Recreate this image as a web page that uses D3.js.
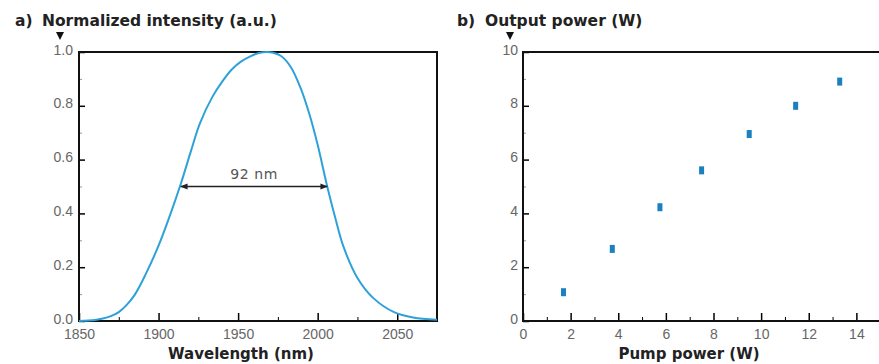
<!DOCTYPE html>
<html>
<head>
<meta charset="utf-8">
<script src="https://cdn.jsdelivr.net/npm/d3@7"></script>
<style>
  body { margin: 0; background: #fff; }
  svg { display: block; font-family: "DejaVu Sans", sans-serif; }
  .tick text { fill: #666; font-size: 14px; }
</style>
</head>
<body>
<script>
// panel a: spectrum
const wavelength = [1850, 1860, 1865, 1870, 1875, 1880, 1885, 1892, 1900, 1907, 1914, 1920, 1926, 1934, 1940, 1946, 1952, 1958, 1963, 1968, 1972, 1977, 1983, 1989, 1995, 2000, 2006, 2011, 2016, 2025, 2035, 2048, 2060, 2075];
const intensity = [0, 0.004, 0.009, 0.018, 0.033, 0.06, 0.097, 0.175, 0.28, 0.39, 0.51, 0.625, 0.735, 0.835, 0.89, 0.935, 0.965, 0.985, 0.996, 1.0, 0.997, 0.985, 0.945, 0.87, 0.765, 0.655, 0.5, 0.385, 0.28, 0.16, 0.085, 0.033, 0.013, 0.005];
const fwhm = [1914, 2006];
const fwhmLabel = "92 nm";

// panel b: output vs pump
const pumpPower = [1.7, 3.75, 5.75, 7.5, 9.5, 11.45, 13.3];
const outputPower = [1.07, 2.68, 4.23, 5.6, 6.95, 8.0, 8.9];

const width = 879, height = 364;
const plotTop = 52, plotBottom = 321;
const curveColor = "#2ea2d8";
const dotColor = "#1a80c2";

const svg = d3.select("body").append("svg")
  .attr("width", width)
  .attr("height", height);

// ---------- panel a ----------
const xA = d3.scaleLinear().domain([1850, 2075]).range([79, 437]);
const yA = d3.scaleLinear().domain([0, 1]).range([plotBottom, plotTop]);

function axesFor(x, y, xMajor, xMinor, yMajor, yMinor, yFmt, yPad) {
  const g = svg.append("g");
  g.append("g")
    .attr("transform", `translate(0,${plotBottom})`)
    .call(d3.axisBottom(x).tickValues(xMinor).tickSize(-4).tickFormat(""))
    .call(a => a.select(".domain").remove());
  g.append("g")
    .attr("transform", `translate(0,${plotBottom})`)
    .call(d3.axisBottom(x).tickValues(xMajor).tickSize(-8).tickPadding(8).tickFormat(d3.format("d")))
    .call(a => a.select(".domain").remove())
    .call(a => a.selectAll(".tick line").attr("stroke-width", 1.5));
  g.append("g")
    .attr("transform", `translate(${x.range()[0]},0)`)
    .call(d3.axisLeft(y).tickValues(yMinor).tickSize(-3).tickFormat(""))
    .call(a => a.select(".domain").remove())
    .call(a => a.selectAll(".tick line").attr("stroke", "#999"));
  g.append("g")
    .attr("transform", `translate(${x.range()[0]},0)`)
    .call(d3.axisLeft(y).tickValues(yMajor).tickSize(-6).tickPadding(yPad).tickFormat(yFmt))
    .call(a => a.select(".domain").remove())
    .call(a => a.selectAll(".tick line").attr("stroke-width", 1.5))
    .call(a => a.selectAll(".tick text").attr("dy", "0.15em"));
  // frame
  g.append("rect")
    .attr("x", x.range()[0]).attr("y", plotTop)
    .attr("width", x.range()[1] - x.range()[0])
    .attr("height", plotBottom - plotTop)
    .attr("fill", "none")
    .attr("stroke", "#111")
    .attr("stroke-width", 2);
}

axesFor(xA, yA,
  [1850, 1900, 1950, 2000, 2050], [1875, 1925, 1975, 2025],
  d3.range(0, 1.01, 0.2), d3.range(0.1, 1, 0.2), d3.format(".1f"), 6);

const line = d3.line()
  .x((d, i) => xA(wavelength[i]))
  .y(d => yA(d))
  .curve(d3.curveCatmullRom.alpha(0.5));

svg.append("path")
  .datum(intensity)
  .attr("fill", "none")
  .attr("stroke", curveColor)
  .attr("stroke-width", 2)
  .attr("d", line);

// fwhm arrow
svg.append("defs").selectAll("marker")
  .data(["start", "end"])
  .join("marker")
  .attr("id", d => "arr-" + d)
  .attr("viewBox", "0 0 10 10")
  .attr("refX", 9).attr("refY", 5)
  .attr("markerWidth", 5).attr("markerHeight", 5)
  .attr("orient", d => d === "end" ? "auto" : "auto-start-reverse")
  .append("path")
  .attr("d", "M0,1 L10,5 L0,9 Z")
  .attr("fill", "#222");

svg.append("line")
  .attr("x1", xA(fwhm[0])).attr("x2", xA(fwhm[1]))
  .attr("y1", yA(0.5)).attr("y2", yA(0.5))
  .attr("stroke", "#222")
  .attr("stroke-width", 1.5)
  .attr("marker-start", "url(#arr-start)")
  .attr("marker-end", "url(#arr-end)");

svg.append("text")
  .attr("x", xA((fwhm[0] + fwhm[1]) / 2))
  .attr("y", yA(0.5) - 8)
  .attr("text-anchor", "middle")
  .attr("fill", "#555")
  .attr("font-size", 14)
  .attr("letter-spacing", 0.6)
  .text(fwhmLabel);

// ---------- panel b ----------
const xB = d3.scaleLinear().domain([0, 16]).range([523, 904]);
const yB = d3.scaleLinear().domain([0, 10]).range([plotBottom, plotTop]);

axesFor(xB, yB,
  d3.range(0, 15, 2), d3.range(1, 16, 2),
  d3.range(0, 11, 2), d3.range(1, 10, 2), d3.format("d"), 5);

svg.append("g")
  .selectAll("rect")
  .data(pumpPower)
  .join("rect")
  .attr("x", d => xB(d) - 2.5)
  .attr("y", (d, i) => yB(outputPower[i]) - 4)
  .attr("width", 5)
  .attr("height", 8)
  .attr("fill", dotColor);

// ---------- titles ----------
function title(x0, label, x1, text, triX) {
  svg.append("text")
    .attr("x", x0).attr("y", 26)
    .attr("font-weight", "bold").attr("font-size", 15.5).attr("fill", "#222")
    .text(label);
  svg.append("text")
    .attr("x", x1).attr("y", 26)
    .attr("font-weight", "bold").attr("font-size", 15.5).attr("fill", "#222")
    .text(text);
  svg.append("path")
    .attr("d", `M${triX - 4},32 L${triX + 4},32 L${triX},40 Z`)
    .attr("fill", "#111");
}
title(15, "a)", 42, "Normalized intensity (a.u.)", 60);
title(457, "b)", 485, "Output power (W)", 510);

svg.append("text")
  .attr("x", 241).attr("y", 359)
  .attr("text-anchor", "middle")
  .attr("font-weight", "bold").attr("font-size", 15).attr("fill", "#222")
  .text("Wavelength (nm)");

svg.append("text")
  .attr("x", 689).attr("y", 359)
  .attr("text-anchor", "middle")
  .attr("font-weight", "bold").attr("font-size", 15).attr("fill", "#222")
  .text("Pump power (W)");
</script>
</body>
</html>
